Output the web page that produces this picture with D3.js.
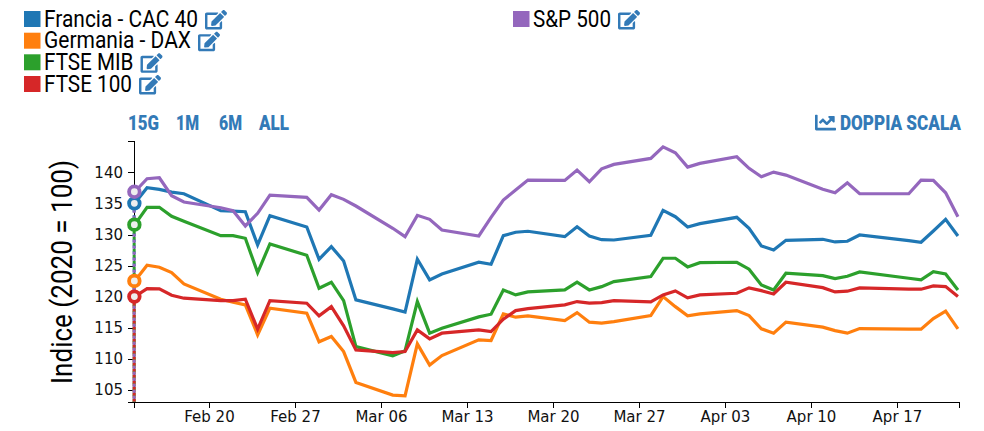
<!DOCTYPE html>
<html><head><meta charset="utf-8">
<script src="https://cdn.jsdelivr.net/npm/d3@7/dist/d3.min.js"></script>
<style>html,body{margin:0;padding:0;background:#fff}svg{display:block}
.axis text{font-family:"DejaVu Sans",sans-serif;font-size:15px;fill:#111}
.axis path,.axis line{stroke:#000;stroke-width:1;shape-rendering:crispEdges}
</style></head><body>
<svg id="c" width="984" height="431"></svg>
<script>
// Trading days (CET midnight expressed as date strings)
const dates = ["2022-02-14","2022-02-15","2022-02-16","2022-02-17","2022-02-18",
"2022-02-21","2022-02-22","2022-02-23","2022-02-24","2022-02-25",
"2022-02-28","2022-03-01","2022-03-02","2022-03-03","2022-03-04",
"2022-03-07","2022-03-08","2022-03-09","2022-03-10","2022-03-11",
"2022-03-14","2022-03-15","2022-03-16","2022-03-17","2022-03-18",
"2022-03-21","2022-03-22","2022-03-23","2022-03-24","2022-03-25",
"2022-03-28","2022-03-29","2022-03-30","2022-03-31","2022-04-01",
"2022-04-04","2022-04-05","2022-04-06","2022-04-07","2022-04-08",
"2022-04-11","2022-04-12","2022-04-13","2022-04-14",
"2022-04-18","2022-04-19","2022-04-20","2022-04-21","2022-04-22"];
const cac40 = [135.03,137.53,137.28,136.84,136.57,133.84,133.79,133.68,128.34,133.04,131.23,126.04,128.07,125.77,119.51,118.06,117.54,126.04,122.72,123.68,125.56,125.24,129.83,130.38,130.54,129.67,131.28,129.78,129.19,129.14,129.89,133.91,132.88,131.23,131.76,132.78,131.02,128.18,127.53,129.09,129.25,128.82,128.93,129.94,129.03,128.77,130.58,132.46,129.78];
const dax = [122.56,125.08,124.76,123.89,122.08,119.62,119.14,118.71,113.89,118.18,117.38,112.77,113.62,111.21,106.24,104.21,104.1,112.45,109.03,110.57,113.09,112.98,117.26,116.73,116.94,116.19,117.47,115.93,115.77,116.03,116.99,120.04,118.43,116.94,117.26,117.79,116.99,114.86,114.16,115.93,115.13,114.58,114.16,114.9,114.81,114.81,116.51,117.7,114.86];
const mib = [131.6,134.39,134.39,132.94,132.14,129.83,129.83,129.41,123.89,128.5,126.68,121.39,122.35,119.4,112.01,110.52,111.32,119.24,114.16,114.97,116.78,117.21,121.11,120.31,120.79,121.11,122.35,121.11,121.64,122.45,123.25,126.2,126.2,124.81,125.5,125.56,124.44,121.92,121.11,123.79,123.41,122.93,123.31,124.0,122.99,122.72,124.05,123.68,121.11];
const ftse = [120.04,121.32,121.28,120.26,119.78,119.4,119.4,119.62,114.81,119.4,118.98,116.94,118.43,115.34,111.48,111.05,111.21,114.69,113.25,114.16,114.69,114.42,116.41,117.79,118.11,118.71,119.24,118.98,119.08,119.4,119.19,120.31,120.95,119.83,120.31,120.58,121.44,121.0,120.47,122.35,121.48,120.79,120.91,121.44,121.23,121.23,121.76,121.65,120.04];
const sp500 = [136.89,138.98,139.14,136.25,135.24,134.32,133.84,131.39,133.43,136.36,135.99,133.95,136.41,135.67,134.6,131.02,129.67,133.1,132.46,130.74,129.78,132.78,135.56,137.16,138.77,138.72,140.37,138.5,140.58,141.29,142.25,144.11,143.15,140.86,141.45,142.51,140.65,139.3,140.05,139.57,137.28,136.73,138.34,136.57,136.57,138.77,138.72,136.73,132.88];
const seriesNames = ["Francia - CAC 40","Germania - DAX","FTSE MIB","FTSE 100","S&P 500"];
const seriesValues = [cac40,dax,mib,ftse,sp500];
const seriesColors = ["#1f77b4","#ff7f0e","#2ca02c","#d62728","#9467bd"];
const yTicks = [105,110,115,120,125,130,135,140];
const xTickDates = ["2022-02-20","2022-02-27","2022-03-06","2022-03-13","2022-03-20","2022-03-27","2022-04-03","2022-04-10","2022-04-17"];
const rangeButtons = ["15G","1M","6M","ALL"];
const yTitle = "Indice (2020 = 100)";
const scaleLabel = "DOPPIA SCALA";
const link = "#337ab7";

const editPath = "M402.6 83.2l90.2 90.2c3.8 3.8 3.8 10 0 13.8L274.4 405.6l-92.8 10.3c-12.4 1.4-22.9-9.1-21.5-21.5l10.3-92.8L388.8 83.2c3.8-3.8 10-3.8 13.8 0zm162-22.9l-48.8-48.8c-15.2-15.2-39.9-15.2-55.2 0l-35.4 35.4c-3.8 3.8-3.8 10 0 13.8l90.2 90.2c3.8 3.8 10 3.8 13.8 0l35.4-35.4c15.2-15.3 15.2-40 0-55.2zM384 346.2V448H64V128h229.8c3.2 0 6.2-1.3 8.5-3.5l40-40c7.6-7.6 2.2-20.5-8.5-20.5H48C21.5 64 0 85.5 0 112v352c0 26.5 21.5 48 48 48h352c26.5 0 48-21.5 48-48V306.2c0-10.7-12.9-16-20.5-8.5l-40 40c-2.2 2.3-3.5 5.3-3.5 8.5z";
const chartPath = "M496 384H64V80c0-8.84-7.16-16-16-16H16C7.16 64 0 71.16 0 80v336c0 17.67 14.33 32 32 32h464c8.84 0 16-7.16 16-16v-32c0-8.84-7.16-16-16-16zM464 96H345.94c-21.38 0-32.09 25.85-16.97 40.97l32.4 32.4L288 242.75l-73.37-73.37c-12.5-12.5-32.76-12.5-45.25 0l-68.69 68.69c-6.25 6.25-6.25 16.38 0 22.63l22.62 22.62c6.25 6.25 16.38 6.25 22.63 0L192 237.25l73.37 73.37c12.5 12.5 32.76 12.5 45.25 0l96-96 32.4 32.4c15.12 15.12 40.97 4.41 40.97-16.97V112c0-8.84-7.16-16-16-16z";

const svg = d3.select("#c");
const x = d3.scaleUtc().domain([Date.UTC(2022,1,13,21,30),Date.UTC(2022,3,22,1,42)]).range([134,959.3]);
const y = d3.scaleLinear().domain([103.1,145]).range([402,141.3]);
// data stamped at CET midnight = 23:00 UTC of the previous day
const when = s => new Date(Date.parse(s+"T00:00:00Z") - 3600000);
const utcDay = s => new Date(s+"T00:00:00Z");

const gx = svg.append("g").attr("class","axis").attr("transform","translate(0,402)")
  .call(d3.axisBottom(x).tickValues(xTickDates.map(utcDay)).tickFormat(d3.utcFormat("%b %d")).tickSize(6).tickPadding(3));
const gy = svg.append("g").attr("class","axis").attr("transform","translate(134,0)")
  .call(d3.axisLeft(y).tickValues(yTicks).tickSize(6).tickPadding(5));

const line = d3.line().x((d,i)=>x(when(dates[i]))).y(d=>y(d));
const order = [0,1,2,3,4];
order.forEach(k=>{
  svg.append("path").attr("d",line(seriesValues[k])).attr("fill","none")
    .attr("stroke",seriesColors[k]).attr("stroke-width",3.2).attr("stroke-linejoin","miter");
});
order.forEach(k=>{
  const px=x(when(dates[0])), py=y(seriesValues[k][0]);
  svg.append("line").attr("x1",px-0.6).attr("x2",px-0.6).attr("y1",py).attr("y2",y.range()[0])
    .attr("stroke",seriesColors[k]).attr("stroke-width",3).attr("stroke-dasharray","3,3");
});
order.forEach(k=>{
  const px=x(when(dates[0])), py=y(seriesValues[k][0]);
  svg.append("circle").attr("cx",px-0.4).attr("cy",py).attr("r",5.3)
    .attr("fill","#eee").attr("stroke",seriesColors[k]).attr("stroke-width",3.8);
});

// legend
const legendPos = [[24,11],[24,32.7],[24,54.3],[24,76],[513,11]];
const legendTextW = [154,147,89.5,88,78];
const legendIconGap = 7;
seriesNames.forEach((n,k)=>{
  const [lx,ly]=legendPos[k];
  svg.append("rect").attr("x",lx).attr("y",ly).attr("width",16.5).attr("height",16).attr("fill",seriesColors[k]);
  svg.append("text").attr("x",lx+20).attr("y",ly+15.5).attr("font-family","Roboto").attr("font-size",24).attr("fill","#000")
    .attr("textLength",legendTextW[k]).attr("lengthAdjust","spacingAndGlyphs").text(n);
  svg.append("path").attr("d",editPath).attr("fill",link)
    .attr("transform",`translate(${lx+20+legendTextW[k]+legendIconGap},${ly-1}) scale(${22/576})`);
});

// range buttons
const btnX=[128,176,219,259], btnW=[31,23,23,30];
rangeButtons.forEach((b,i)=>{
  svg.append("text").attr("x",btnX[i]).attr("y",130).attr("font-family","Roboto").attr("font-weight",900)
    .attr("font-size",20).attr("fill",link).attr("textLength",btnW[i]).attr("lengthAdjust","spacingAndGlyphs").text(b);
});
svg.append("path").attr("d",chartPath).attr("fill",link).attr("transform",`translate(815,112) scale(${21/512})`);
svg.append("text").attr("x",840).attr("y",130).attr("font-family","Roboto").attr("font-weight",900)
  .attr("font-size",20).attr("fill",link).attr("textLength",121).attr("lengthAdjust","spacingAndGlyphs").text(scaleLabel);

// y title
svg.append("text").attr("transform","translate(72,272) rotate(-90)").attr("text-anchor","middle")
  .attr("font-family","Roboto").attr("font-size",29).attr("fill","#000")
  .attr("textLength",224).attr("lengthAdjust","spacingAndGlyphs").text(yTitle);
</script></body></html>
